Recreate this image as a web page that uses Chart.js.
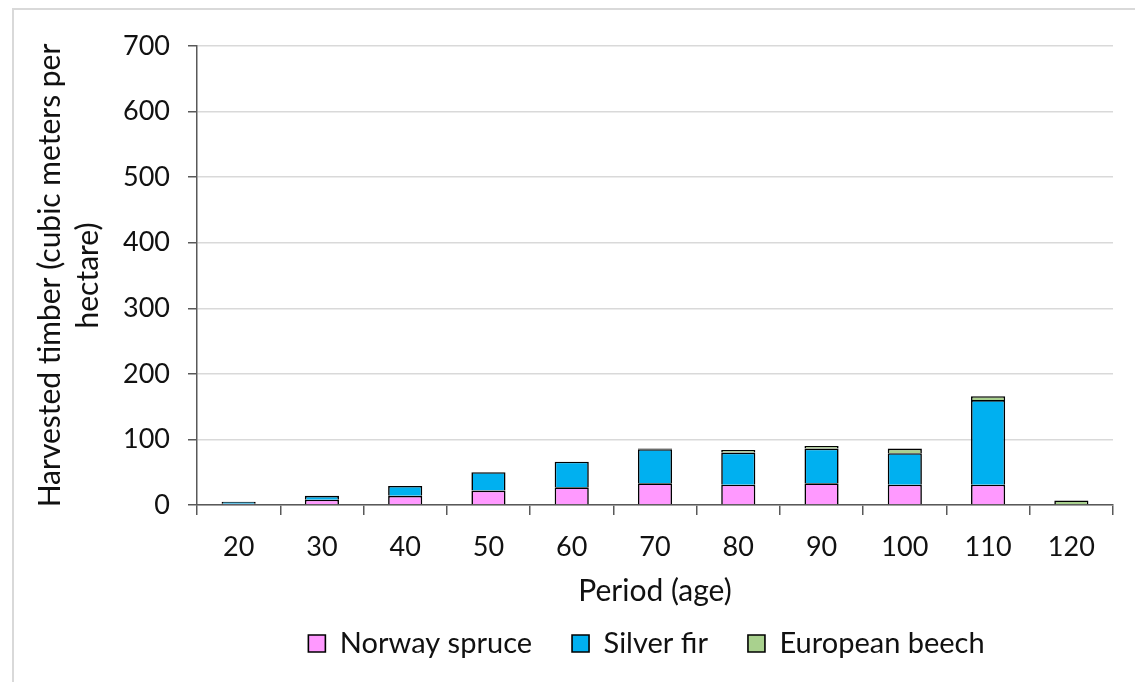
<!DOCTYPE html>
<html>
<head>
<meta charset="utf-8">
<script src="https://cdn.jsdelivr.net/npm/chart.js@4.4.1/dist/chart.umd.min.js"></script>
<style>
  html, body { margin: 0; padding: 0; background: #fff; }
  #wrap { position: relative; width: 1135px; height: 682px; overflow: hidden; }
  #frame { position: absolute; left: 12px; top: 8px; width: 1140px; height: 690px; border: 2px solid #d9d9d9; box-sizing: border-box; }
  canvas { position: absolute; left: 0; top: 0; }
</style>
</head>
<body>
<div id="wrap">
  <div id="frame"></div>
  <canvas id="c" width="1135" height="682"></canvas>
</div>
<script>
// Harvested timber by period, stacked by species (m³/ha)
const periods = ['20', '30', '40', '50', '60', '70', '80', '90', '100', '110', '120'];
const norwaySpruce  = [2, 8, 14, 22, 27, 33, 31, 33, 31, 31, 0];
const silverFir     = [3, 6, 15, 28, 39, 52, 49, 53, 48, 129, 0];
const europeanBeech = [0, 0, 0, 0, 0, 1, 4, 4, 7, 6, 7];
const yTicks = [0, 100, 200, 300, 400, 500, 600, 700];

const FONT = 'Lato';
const TICK_SIZE = 27;
const TITLE_SIZE = 30;
const LEGEND_SIZE = 29;
const TEXT = '#111';
const AXIS = '#595959';
const AXIS_X = 197;      // x position of the value axis
const LEGEND_PAD = 40;
const LEGEND_LIFT = 26;  // legend rows sit closer to the axis title than its padding implies
const LEGEND_SHIFT = 90; // centre the legend under the plot area rather than the canvas

function series(label, data, color) {
  return {
    label, data,
    backgroundColor: color,
    borderColor: '#000',
    borderWidth: 1.6,
    barPercentage: 0.41,
    categoryPercentage: 1.0,
    stack: 'all'
  };
}

// Draw the legend offset from its layout box
const legendOffset = {
  id: 'legendOffset',
  afterInit(chart) {
    const lg = chart.legend;
    if (!lg || lg._offset) return;
    const draw = lg.draw.bind(lg);
    lg.draw = function () {
      this.top -= LEGEND_LIFT; this.bottom -= LEGEND_LIFT;
      this.left += LEGEND_SHIFT; this.right += LEGEND_SHIFT;
      draw();
      this.top += LEGEND_LIFT; this.bottom += LEGEND_LIFT;
      this.left -= LEGEND_SHIFT; this.right -= LEGEND_SHIFT;
    };
    lg._offset = true;
  }
};

new Chart(document.getElementById('c'), {
  type: 'bar',
  data: {
    labels: periods,
    datasets: [
      series('Norway spruce', norwaySpruce, '#ff99ff'),
      series('Silver fir', silverFir, '#00b0f0'),
      series('European beech', europeanBeech, '#a9d18e')
    ]
  },
  plugins: [legendOffset],
  options: {
    responsive: false,
    animation: false,
    layout: { padding: { top: 46, right: 22, bottom: -12, left: 0 } },
    plugins: {
      tooltip: { enabled: false },
      legend: {
        position: 'bottom',
        labels: {
          font: { family: FONT, size: LEGEND_SIZE },
          color: TEXT,
          boxWidth: 17,
          boxHeight: 17,
          padding: LEGEND_PAD,
          useBorderRadius: false
        }
      }
    },
    scales: {
      x: {
        stacked: true,
        afterFit: s => { s.height = 110; },
        grid: { drawOnChartArea: false, tickLength: 10, tickColor: AXIS, lineWidth: 1.5, offset: true },
        border: { color: AXIS, width: 1.5 },
        ticks: { font: { family: FONT, size: TICK_SIZE }, color: TEXT, padding: 16 },
        title: { display: true, text: 'Period (age)', font: { family: FONT, size: TITLE_SIZE }, color: TEXT, padding: { top: 0, bottom: 6 } }
      },
      y: {
        stacked: true,
        min: 0, max: 700,
        afterBuildTicks: s => { s.ticks = yTicks.map(v => ({ value: v })); },
        afterFit: s => { s.width = AXIS_X; },
        grid: { color: '#d9d9d9', lineWidth: 1.5, tickLength: 9, tickColor: AXIS },
        border: { color: AXIS, width: 1.5 },
        ticks: { font: { family: FONT, size: TICK_SIZE }, color: TEXT, padding: 18 },
        title: {
          display: true,
          text: ['Harvested timber (cubic meters per', 'hectare)'],
          font: { family: FONT, size: TITLE_SIZE, lineHeight: 1.27 },
          color: TEXT,
          padding: { top: 31, bottom: 0 }
        }
      }
    }
  }
});
</script>
</body>
</html>
